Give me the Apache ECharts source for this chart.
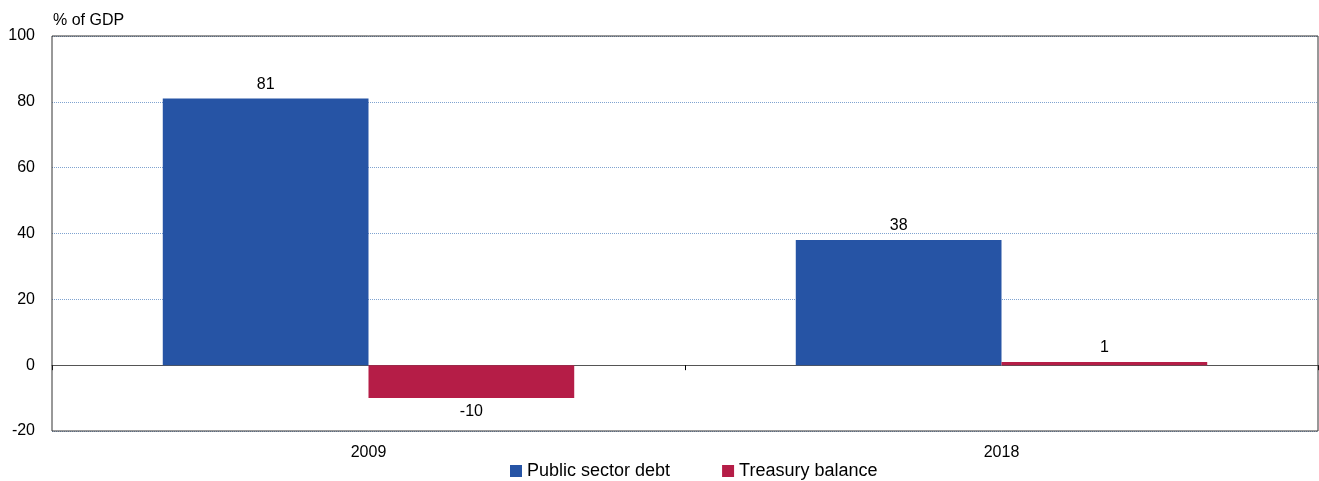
<!DOCTYPE html>
<html>
<head>
<meta charset="utf-8">
<script src="https://cdn.jsdelivr.net/npm/echarts@6/dist/echarts.min.js"></script>
<style>
  html, body { margin: 0; padding: 0; background: #fff; }
  #chart { width: 1319px; height: 481px; }
</style>
</head>
<body>
<div id="chart"></div>
<script>
// data
const years = ['2009', '2018']
const publicDebt = [81, 38]
const treasuryBalance = [-10, 1]
const yTicks = { min: -20, max: 100, step: 20 }

const FONT = 'Liberation Sans'
const BLUE = '#2654a5'
const RED = '#b51d47'

// negative bars get their label underneath
const withLabels = (vals) => vals.map(v => ({
  value: v,
  label: { position: v < 0 ? 'bottom' : 'top' }
}))

const chart = echarts.init(document.getElementById('chart'))

chart.setOption({
  animation: false,
  textStyle: { fontFamily: FONT },
  title: {
    text: '% of GDP',
    left: 48,
    top: 8,
    textStyle: { fontSize: 16, fontWeight: 'normal', color: '#000', fontFamily: FONT }
  },
  grid: {
    left: 52,
    right: 1,
    top: 36,
    bottom: 50,
    show: true,
    z: 5,
    backgroundColor: 'transparent',
    borderColor: '#333',
    borderWidth: 1
  },
  legend: {
    left: 505,
    top: 457,
    icon: 'rect',
    itemWidth: 12,
    itemHeight: 12,
    itemGap: 52,
    textStyle: { fontSize: 18, color: '#000', fontFamily: FONT }
  },
  xAxis: [
    {
      type: 'category',
      data: years,
      position: 'bottom',
      axisLine: { show: false, onZero: false },
      axisTick: { show: false },
      axisLabel: { fontSize: 16, color: '#000', margin: 14 }
    },
    {
      type: 'category',
      data: years,
      position: 'bottom',
      axisLine: { show: true, onZero: true, lineStyle: { color: '#555', width: 1 } },
      axisTick: { show: true, length: 5, interval: 0, lineStyle: { color: '#000' } },
      axisLabel: { show: false }
    }
  ],
  yAxis: {
    type: 'value',
    min: yTicks.min,
    max: yTicks.max,
    interval: yTicks.step,
    axisLine: { show: false },
    axisTick: { show: false },
    axisLabel: { fontSize: 16, color: '#000', margin: 17 },
    splitLine: { show: true, lineStyle: { type: 'dotted', color: '#7fa3d0', width: 1 } }
  },
  series: [
    {
      name: 'Public sector debt',
      type: 'bar',
      xAxisIndex: 0,
      data: withLabels(publicDebt),
      barGap: '0%',
      barCategoryGap: '35%',
      itemStyle: { color: BLUE },
      label: { show: true, fontSize: 16, color: '#000', distance: 6 }
    },
    {
      name: 'Treasury balance',
      type: 'bar',
      xAxisIndex: 0,
      data: withLabels(treasuryBalance),
      barGap: '0%',
      barCategoryGap: '35%',
      itemStyle: { color: RED },
      label: { show: true, fontSize: 16, color: '#000', distance: 6 }
    }
  ]
})
</script>
</body>
</html>
